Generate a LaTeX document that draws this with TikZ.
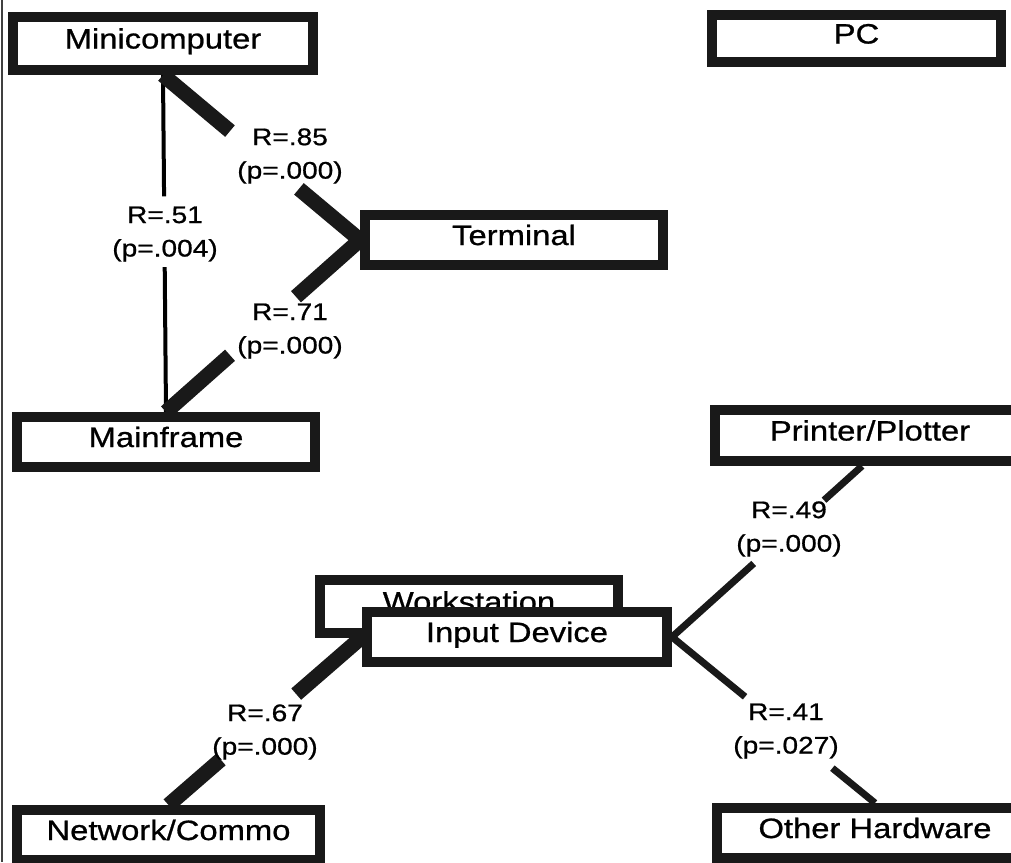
\documentclass[tikz,border=0pt]{standalone}
\usepackage{fontspec}
\setmainfont{Liberation Sans}[FakeStretch=1.17, FakeBold=0.8]
\pgfdeclarelayer{background}
\pgfsetlayers{background,main}
\definecolor{ink}{gray}{0.1}
\tikzset{
  itembox/.style={draw=ink, line width=10pt, fill=white, inner sep=0pt,
    minimum width=298pt, minimum height=50pt,
    font=\fontsize{28}{32}\selectfont, text height=20pt, text depth=10pt},
  corrlabel/.style={font=\fontsize{24}{33.5}\selectfont, align=center, inner sep=0pt},
  thickbond/.style={draw=ink, line width=15pt},
  thinbond/.style={draw=ink, line width=7pt},
  hairbond/.style={draw=black, line width=4pt},
}
\begin{document}
\begin{tikzpicture}[x=1pt,y=-1pt]
\useasboundingbox (0,0) rectangle (1011,862);
\clip (0,0) rectangle (1011,862);

% rule along the left edge
\draw[black!75, line width=2pt] (2,0) -- (2,862);

% items
\node[itembox, minimum width=300pt, minimum height=53pt] (mini) at (163,43.5) {Minicomputer};
\node[itembox, minimum width=289pt, minimum height=47pt] (pc) at (856.5,38.5) {PC};
\node[itembox] (term) at (514,240) {Terminal};
\node[itembox] (main) at (166,442) {Mainframe};
\node[itembox, minimum width=310pt, minimum height=51pt] (printer) at (870,435.5) {Printer/Plotter};
\node[itembox, minimum height=53pt] (work) at (469,606.5) {Workstation};
\node[itembox, minimum width=300pt] (input) at (517,637) {Input Device};
\node[itembox, minimum width=303pt] (net) at (168.5,835) {Network/Commo};
\node[itembox, minimum width=316pt] (other) at (875,833) {Other Hardware};

% correlation labels
\node[corrlabel] (r51) at (165,234) {R=.51\\(p=.004)};
\node[corrlabel] (r85) at (290,156) {R=.85\\(p=.000)};
\node[corrlabel] (r71) at (290,331) {R=.71\\(p=.000)};
\node[corrlabel] (r49) at (789,529) {R=.49\\(p=.000)};
\node[corrlabel] (r41) at (786,731) {R=.41\\(p=.027)};
\node[corrlabel] (r67) at (265,732) {R=.67\\(p=.000)};

% links, each broken where its label sits
\begin{pgfonlayer}{background}
  \path (mini.south) -- (main.north) coordinate[pos=0.36] (a1) coordinate[pos=0.57] (a2);
  \draw[hairbond] (mini.south) -- (a1);
  \draw[hairbond] (a2) -- (main.north);

  \path (mini.south) -- (term.west) coordinate[pos=0.34] (b1) coordinate[pos=0.69] (b2);
  \draw[thickbond] (mini.south) -- (b1);
  \draw[thickbond] (b2) -- (term.west);

  \path (main.north) -- (term.west) coordinate[pos=0.33] (c1) coordinate[pos=0.67] (c2);
  \draw[thickbond] (main.north) -- (c1);
  \draw[thickbond] (c2) -- (term.west);

  \path (input.east) -- ([xshift=-8pt]printer.south) coordinate[pos=0.43] (d1) coordinate[pos=0.80] (d2);
  \draw[thinbond] (input.east) -- (d1);
  \draw[thinbond] (d2) -- ([xshift=-8pt]printer.south);

  \path (input.east) -- (other.north) coordinate[pos=0.36] (e1) coordinate[pos=0.79] (e2);
  \draw[thinbond] (input.east) -- (e1);
  \draw[thinbond] (e2) -- (other.north);

  \path (input.west) -- (net.north) coordinate[pos=0.34] (f1) coordinate[pos=0.73] (f2);
  \draw[thickbond] (input.west) -- (f1);
  \draw[thickbond] (f2) -- (net.north);
\end{pgfonlayer}
\end{tikzpicture}
\end{document}
